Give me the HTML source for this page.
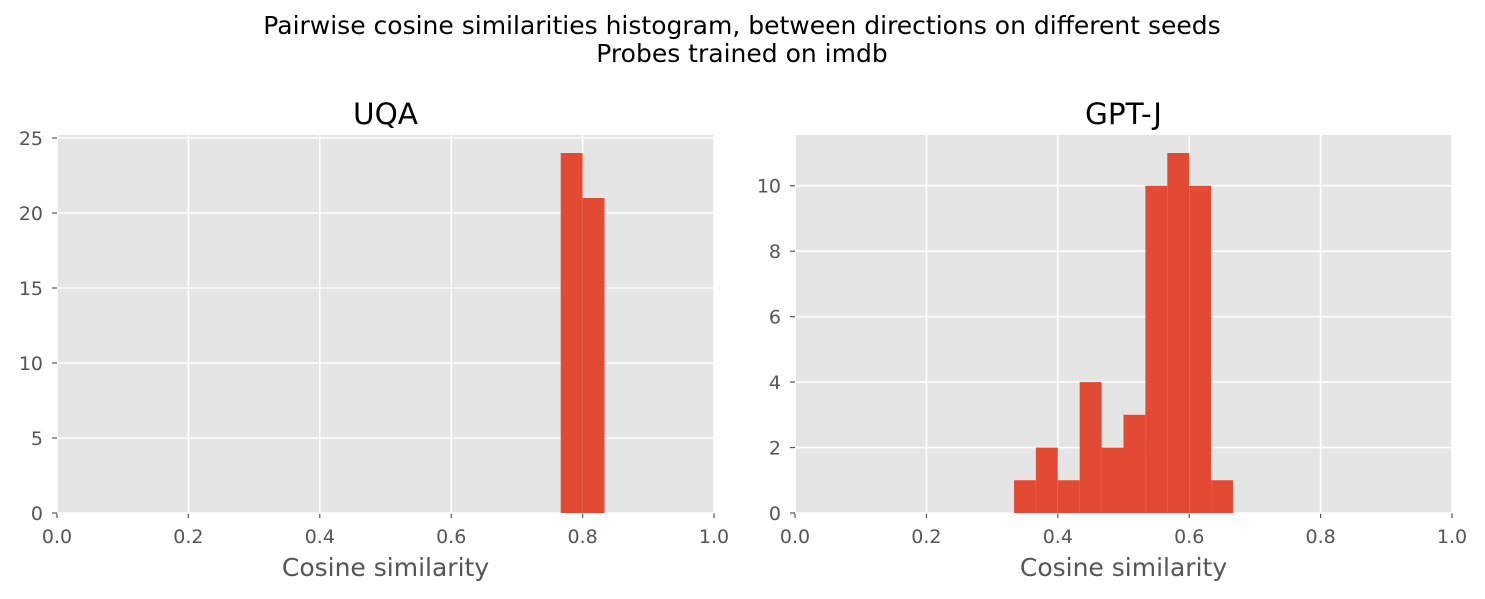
<!DOCTYPE html>
<html><head><meta charset="utf-8"><style>
body{margin:0;background:#fff;font-family:"DejaVu Sans","Liberation Sans",sans-serif}
</style></head><body>
<svg id="c" width="1485" height="595" xmlns="http://www.w3.org/2000/svg">
<text x="742" y="34" text-anchor="middle" font-size="25" fill="#000" font-family="DejaVu Sans, sans-serif">Pairwise cosine similarities histogram, between directions on different seeds</text>
<text x="742" y="62" text-anchor="middle" font-size="25" fill="#000" font-family="DejaVu Sans, sans-serif">Probes trained on imdb</text>
</svg>
<script>
const binEdgesStart = 0.7667;
const binWidth = 1/30;
const uqaCounts = [24, 21];
const gptjStart = 0.3333;
const gptjCounts = [1, 2, 1, 4, 2, 3, 10, 11, 10, 1];
const xTicks = [0.0, 0.2, 0.4, 0.6, 0.8, 1.0];
const uqaYTicks = [0, 5, 10, 15, 20, 25];
const gptjYTicks = [0, 2, 4, 6, 8, 10];

const svg = document.getElementById('c');
const NS = 'http://www.w3.org/2000/svg';
function mk(tag, attrs, text){
  const e = document.createElementNS(NS, tag);
  for (const k in attrs) e.setAttribute(k, attrs[k]);
  if (text !== undefined) e.textContent = text;
  svg.appendChild(e);
  return e;
}
function panel(name, title, x0, start, counts, yTicks, ymax){
  const top = 135, bot = 513, w = 657, h = bot - top;
  const xs = v => x0 + v * w;
  const ys = v => bot - v / ymax * h;
  const bg = mk('rect', {x:x0, y:top, width:w, height:h, fill:'#E5E5E5'});
  
  
  xTicks.forEach(t => {
    const g = mk('line', {x1:xs(t), x2:xs(t), y1:top, y2:bot, stroke:'#fff', 'stroke-width':1.6});
    
    
    mk('line', {x1:xs(t), x2:xs(t), y1:bot, y2:bot+5, stroke:'#555', 'stroke-width':1.2});
    const l = mk('text', {x:xs(t), y:bot+30, 'text-anchor':'middle', 'font-size':19, fill:'#555', 'font-family':'DejaVu Sans, sans-serif'}, t.toFixed(1));
    
    
  });
  yTicks.forEach(t => {
    const g = mk('line', {x1:x0, x2:x0+w, y1:ys(t), y2:ys(t), stroke:'#fff', 'stroke-width':1.6});
    
    
    mk('line', {x1:x0-5, x2:x0, y1:ys(t), y2:ys(t), stroke:'#555', 'stroke-width':1.2});
    const l = mk('text', {x:x0-14, y:ys(t)+7, 'text-anchor':'end', 'font-size':19, fill:'#555', 'font-family':'DejaVu Sans, sans-serif'}, String(t));
    
    
  });
  counts.forEach((c, i) => {
    const a = start + i * binWidth, b = a + binWidth;
    const r = mk('rect', {x:xs(a), y:ys(c), width:xs(b)-xs(a), height:bot-ys(c), fill:'#E24A33'});
    
    
  });
  const t = mk('text', {x:x0+w/2, y:124, 'text-anchor':'middle', 'font-size':29.5, fill:'#000', 'font-family':'DejaVu Sans, sans-serif'}, title);
  
  
  const xl = mk('text', {x:x0+w/2, y:576, 'text-anchor':'middle', 'font-size':25, fill:'#555', 'font-family':'DejaVu Sans, sans-serif'}, 'Cosine similarity');
  
  
}
panel('uqa', 'UQA', 57, binEdgesStart, uqaCounts, uqaYTicks, 25.2);
panel('gptj', 'GPT-J', 795, gptjStart, gptjCounts, gptjYTicks, 11.55);
</script>
</body></html>
